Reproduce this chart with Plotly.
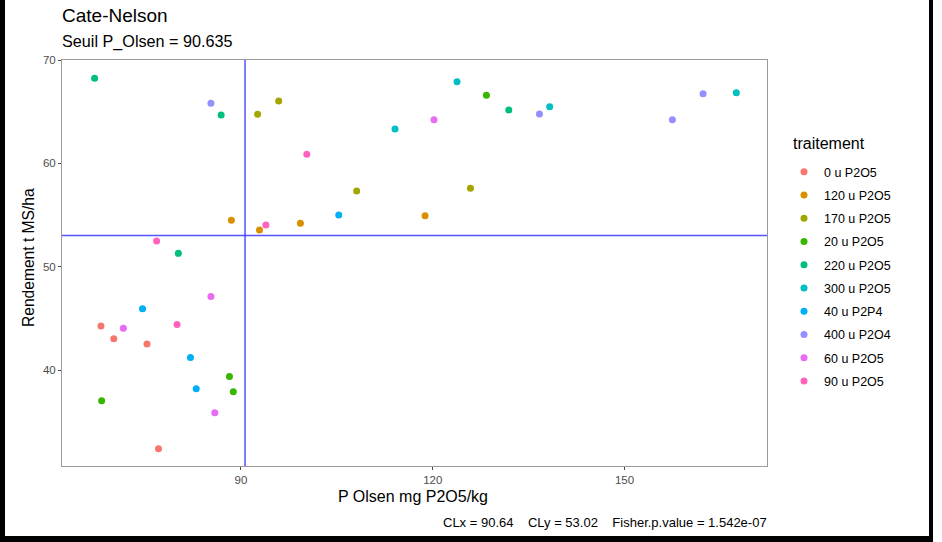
import plotly.graph_objects as go

# ---- data ----
groups = ["0 u P2O5", "120 u P2O5", "170 u P2O5", "20 u P2O5", "220 u P2O5",
          "300 u P2O5", "40 u P2P4", "400 u P2O4", "60 u P2O5", "90 u P2O5"]
colors = ["#F8766D", "#D89000", "#A3A500", "#39B600", "#00BF7D",
          "#00BFC4", "#00B0F6", "#9590FF", "#E76BF3", "#FF62BC"]

p_olsen = {
    "0 u P2O5":   [68.1, 70.1, 75.3, 77.1],
    "120 u P2O5": [88.5, 92.9, 99.3, 118.8],
    "170 u P2O5": [92.6, 95.9, 108.1, 125.9],
    "20 u P2O5":  [68.2, 88.2, 88.8, 128.4],
    "220 u P2O5": [67.1, 86.9, 80.2, 131.9],
    "300 u P2O5": [114.1, 123.8, 138.3, 167.5],
    "40 u P2P4":  [74.6, 82.1, 83.0, 105.3],
    "400 u P2O4": [85.3, 136.7, 157.5, 162.3],
    "60 u P2O5":  [71.6, 85.3, 85.9, 120.2],
    "90 u P2O5":  [76.8, 80.0, 93.9, 100.3],
}
rendement = {
    "0 u P2O5":   [44.25, 43.03, 42.51, 32.37],
    "120 u P2O5": [54.48, 53.54, 54.19, 54.93],
    "170 u P2O5": [64.74, 66.03, 57.32, 57.58],
    "20 u P2O5":  [37.02, 39.38, 37.89, 66.58],
    "220 u P2O5": [68.23, 64.68, 51.29, 65.16],
    "300 u P2O5": [63.32, 67.90, 65.48, 66.84],
    "40 u P2P4":  [45.92, 41.22, 38.18, 55.00],
    "400 u P2O4": [65.81, 64.77, 64.22, 66.74],
    "60 u P2O5":  [44.03, 47.12, 35.86, 64.22],
    "90 u P2O5":  [52.48, 44.41, 54.03, 60.87],
}
CLx = 90.635
CLy = 53.02
x_ticks = [90, 120, 150]
y_ticks = [40, 50, 60, 70]

title_text = "Cate-Nelson"
subtitle_text = "Seuil P_Olsen = 90.635"
caption_text = "CLx = 90.64    CLy = 53.02    Fisher.p.value = 1.542e-07"
x_title = "P Olsen mg P2O5/kg"
y_title = "Rendement t MS/ha"
legend_title = "traitement"

# ---- geometry (pixels) ----
W, H = 942, 542
L, R, T, B = 62, 767, 60, 466
pw, ph = R - L, B - T

def px_x(p):
    return (p - L) / pw

def px_y(p):
    return 1 - (p - T) / ph

FONT = "Liberation Sans, Arial, sans-serif"

fig = go.Figure()
for g, c in zip(groups, colors):
    fig.add_trace(go.Scatter(
        x=p_olsen[g], y=rendement[g], mode="markers", name=g, legendgroup=g,
        marker=dict(color=c, size=7, line=dict(width=0)),
    ))

line_col = "rgba(40,40,255,0.8)"
fig.add_shape(type="line", xref="x", yref="paper", x0=CLx, x1=CLx, y0=0, y1=1,
              line=dict(color=line_col, width=1.5))
fig.add_shape(type="line", xref="paper", yref="y", x0=0, x1=1, y0=CLy, y1=CLy,
              line=dict(color=line_col, width=1.5))

# outer black frame (left, right, bottom)
for (x0, x1, y0, y1) in [(0, 5, 0, 542), (929, 933, 0, 542), (0, 933, 536, 542)]:
    fig.add_shape(type="rect", xref="paper", yref="paper",
                  x0=px_x(x0), x1=px_x(x1), y0=px_y(y1), y1=px_y(y0),
                  fillcolor="black", line=dict(width=0), layer="above")

ann = [
    dict(text=title_text, x=px_x(60), y=px_y(16), xanchor="left", yanchor="middle",
         font=dict(size=19, color="black")),
    dict(text=subtitle_text, x=px_x(60), y=px_y(42), xanchor="left", yanchor="middle",
         font=dict(size=16.2, color="black")),
    dict(text=caption_text, x=px_x(769), y=px_y(522), xanchor="right", yanchor="middle",
         font=dict(size=13, color="black")),
    dict(text=x_title, x=px_x(413), y=px_y(496), xanchor="center", yanchor="middle",
         font=dict(size=16, color="black")),
    dict(text=y_title, x=px_x(28), y=px_y(258), xanchor="center", yanchor="middle",
         textangle=-90, font=dict(size=15.6, color="black")),
    dict(text=legend_title, x=px_x(791), y=px_y(143), xanchor="left", yanchor="middle",
         font=dict(size=16, color="black")),
]
for a in ann:
    fig.add_annotation(xref="paper", yref="paper", showarrow=False, **a)

axis_common = dict(showgrid=False, zeroline=False, showline=True, mirror=True,
                   linecolor="#9a9a9a", linewidth=1, ticks="outside", ticklen=3,
                   tickcolor="#4d4d4d", tickfont=dict(size=11.5, color="#4d4d4d"))

fig.update_layout(
    width=W, height=H,
    margin=dict(l=L, r=W - R, t=T, b=H - B),
    paper_bgcolor="white", plot_bgcolor="white",
    font=dict(family=FONT),
    xaxis=dict(range=[62.0, 172.3], tickvals=x_ticks, **axis_common),
    yaxis=dict(range=[30.71, 70.0], tickvals=y_ticks, **axis_common),
    legend=dict(x=px_x(784), y=px_y(157), xanchor="left", yanchor="top",
                font=dict(size=12.5, color="black"), tracegroupgap=4,
                bgcolor="rgba(0,0,0,0)"),
    showlegend=True,
)

fig.write_html("out.html")
